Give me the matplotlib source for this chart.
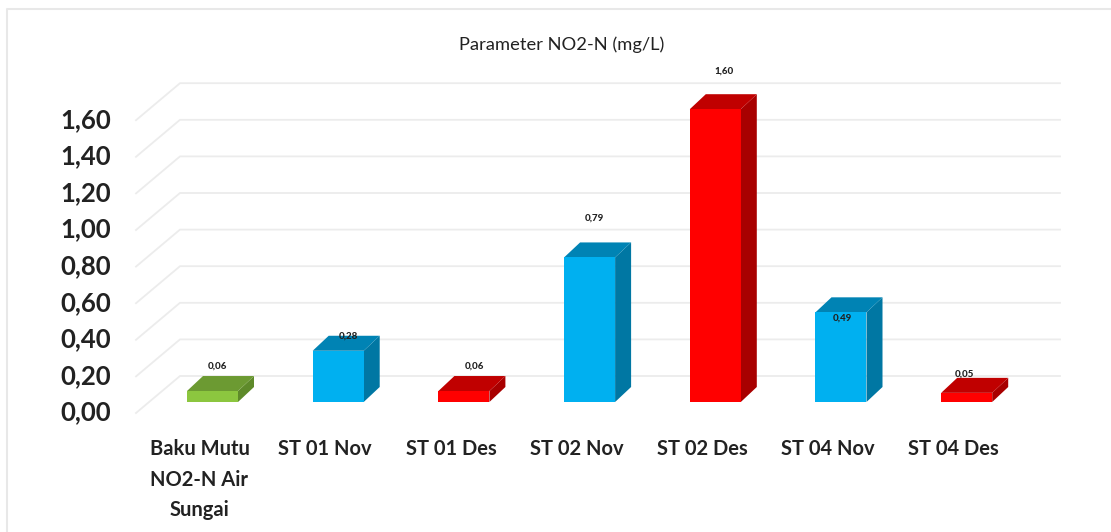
import matplotlib
matplotlib.use("Agg")
import matplotlib.pyplot as plt
from matplotlib.lines import Line2D
from matplotlib.patches import Polygon
from matplotlib.transforms import ScaledTranslation

plt.rcParams['font.family'] = ['Lato', 'DejaVu Sans']

categories = ["Baku Mutu\nNO2-N Air\nSungai", "ST 01 Nov", "ST 01 Des", "ST 02 Nov",
              "ST 02 Des", "ST 04 Nov", "ST 04 Des"]
values = [0.06, 0.28, 0.06, 0.79, 1.60, 0.49, 0.05]
ticks = [0.0, 0.2, 0.4, 0.6, 0.8, 1.0, 1.2, 1.4, 1.6]
title = "Parameter NO2-N (mg/L)"

FRONT = {"g": "#8CC63F", "b": "#00B0F0", "r": "#FF0000"}
TOP = {"g": "#6C9A32", "b": "#0083B4", "r": "#C00000"}
SIDE = {"g": "#5E8A2A", "b": "#0077A3", "r": "#A80000"}
series_color = ["g", "b", "r", "b", "r", "b", "r"]

W, H = 1111, 532
PX_X, PX_Y = 125.7, 183.0   # pixels per category, pixels per unit
X0, Y0 = 212.5, 402.0       # pixel position of category 0, value 0 (bars)
fig = plt.figure(figsize=(W / 100, H / 100), dpi=100, facecolor="white")

# page frame: only left and top edges are visible in the picture
fig.add_artist(Line2D([6.5 / W, 6.5 / W, 1], [0, 1 - 8.5 / H, 1 - 8.5 / H], transform=fig.transFigure,
                      color="#E8E8E8", lw=1.5))


def make_axes(x0, y0, z):
    ax = fig.add_axes([0, 0, 1, 1], zorder=z)
    ax.set_xlim(-x0 / PX_X, (W - x0) / PX_X)
    ax.set_ylim(-(H - y0) / PX_Y, y0 / PX_Y)
    ax.patch.set_alpha(0)
    for s in ax.spines.values():
        s.set_visible(False)
    return ax


# wall axes: floor front edge and tick labels
wall = make_axes(X0 - 13, Y0 + 11, 1)
bars = make_axes(X0, Y0, 2)
bars.set_xticks([])
bars.set_yticks([])

wall.set_yticks(ticks)
wall.set_yticklabels([f"{t:.2f}".replace(".", ",") for t in ticks], fontsize=18.5,
                     fontweight="bold", color="#222222")
wall.set_xticks(range(len(categories)))
wall.set_xticklabels(categories, fontsize=14.5, fontweight="bold", color="#222222",
                     linespacing=1.66, va="top")
wall.tick_params(axis="both", length=0)
wall.tick_params(axis="y", direction="in", pad=-80)
wall.tick_params(axis="x", direction="in", pad=-67)
for lab in wall.get_yticklabels():
    lab.set_transform(lab.get_transform() + ScaledTranslation(0, 2.5 / 72 * 0.72, fig.dpi_scale_trans))

# wall gridlines with oblique floor segment
gx = lambda p: (p - (X0 - 13)) / PX_X
for t in ticks:
    wall.plot([gx(136), gx(180), gx(1060)], [t, t + 37 / PX_Y, t + 37 / PX_Y],
              color="#ECECEC", lw=1.3, solid_joinstyle="round")

# 3D bars
W_BAR = 51 / PX_X
DX, DY = 16 / PX_X, 15 / PX_Y
for i, (v, c) in enumerate(zip(values, series_color)):
    l, r = i - W_BAR / 2, i + W_BAR / 2
    bars.add_patch(Polygon([(r, 0), (r + DX, DY), (r + DX, v + DY), (r, v)], fc=SIDE[c], ec="none"))
    bars.add_patch(Polygon([(l, v), (l + DX, v + DY), (r + DX, v + DY), (r, v)], fc=TOP[c], ec="none"))
    bars.bar(i, v, width=W_BAR, color=FRONT[c], linewidth=0)

# hand-placed data labels: pixel offset from bar's front-top centre
LABEL_OFF = [(5, 25), (10, 15), (11, 25), (5, 39), (9, 38), (1, -6), (-2, 19)]
for i, (v, (ox, oy)) in enumerate(zip(values, LABEL_OFF)):
    bars.text(i + ox / PX_X, v + oy / PX_Y, f"{v:.2f}".replace(".", ","), fontsize=7,
              fontweight="black", ha="center", va="center", color="#222222", zorder=5)

fig.text(562 / W, 1 - 44.5 / H, title, fontsize=13.2, ha="center", va="center", color="#222222")

fig.savefig("out.png", dpi=100)
